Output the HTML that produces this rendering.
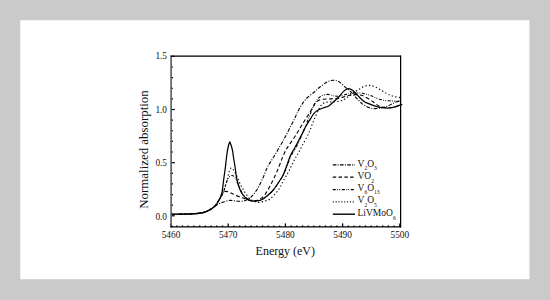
<!DOCTYPE html>
<html><head><meta charset="utf-8"><style>
html,body{margin:0;padding:0;}
body{width:550px;height:300px;background:#cacaca;overflow:hidden;}
svg{position:absolute;left:0;top:0;}
text{font-family:"Liberation Serif",serif;fill:#111;}
</style></head><body>
<svg width="550" height="300" viewBox="0 0 550 300">
<rect x="20.25" y="20.25" width="509.2" height="259" fill="#fff"/>
<g><path d="M171.00 214.30 C173.33 214.27 181.00 214.20 185.00 214.10 C189.00 214.00 192.00 213.95 195.00 213.70 C198.00 213.45 200.83 213.08 203.00 212.60 C205.17 212.12 206.50 211.50 208.00 210.80 C209.50 210.10 210.75 209.23 212.00 208.40 C213.25 207.57 214.33 206.57 215.50 205.80 C216.67 205.03 217.75 204.38 219.00 203.80 C220.25 203.22 221.17 202.87 223.00 202.30 C224.83 201.73 227.50 200.58 230.00 200.40 C232.50 200.22 235.55 201.13 238.00 201.20 C240.45 201.27 242.82 201.28 244.70 200.80 C246.58 200.32 248.05 199.13 249.30 198.30 C250.55 197.47 251.25 196.78 252.20 195.80 C253.15 194.82 254.03 193.70 255.00 192.40 C255.97 191.10 257.03 189.65 258.00 188.00 C258.97 186.35 259.83 184.50 260.80 182.50 C261.77 180.50 262.60 178.75 263.80 176.00 C265.00 173.25 266.30 169.25 268.00 166.00 C269.70 162.75 271.67 160.38 274.00 156.50 C276.33 152.62 280.05 146.12 282.00 142.70 C283.95 139.28 284.37 138.53 285.70 136.00 C287.03 133.47 288.50 130.42 290.00 127.50 C291.50 124.58 293.43 121.08 294.70 118.50 C295.97 115.92 296.45 114.28 297.60 112.00 C298.75 109.72 300.03 107.13 301.60 104.80 C303.17 102.47 304.77 100.22 307.00 98.00 C309.23 95.78 312.83 93.33 315.00 91.50 C317.17 89.67 318.00 88.58 320.00 87.00 C322.00 85.42 324.83 83.13 327.00 82.00 C329.17 80.87 331.00 80.23 333.00 80.20 C335.00 80.17 337.03 80.70 339.00 81.80 C340.97 82.90 342.97 85.27 344.80 86.80 C346.63 88.33 348.30 89.38 350.00 91.00 C351.70 92.62 353.50 94.92 355.00 96.50 C356.50 98.08 357.83 99.32 359.00 100.50 C360.17 101.68 360.83 102.63 362.00 103.60 C363.17 104.57 364.67 105.58 366.00 106.30 C367.33 107.02 368.67 107.52 370.00 107.90 C371.33 108.28 372.67 108.50 374.00 108.60 C375.33 108.70 376.67 108.63 378.00 108.50 C379.33 108.37 380.45 108.18 382.00 107.80 C383.55 107.42 385.75 106.78 387.30 106.20 C388.85 105.62 389.97 104.95 391.30 104.30 C392.63 103.65 393.85 102.85 395.30 102.30 C396.75 101.75 399.22 101.22 400.00 101.00" fill="none" stroke="#000" stroke-width="1.1" stroke-dasharray="3.6 1.5 1 1.5" stroke-linejoin="round"/><path d="M171.00 214.30 C173.33 214.27 181.00 214.20 185.00 214.10 C189.00 214.00 192.00 213.95 195.00 213.70 C198.00 213.45 200.83 213.08 203.00 212.60 C205.17 212.12 206.50 211.50 208.00 210.80 C209.50 210.10 210.83 209.20 212.00 208.40 C213.17 207.60 213.83 207.40 215.00 206.00 C216.17 204.60 217.83 201.83 219.00 200.00 C220.17 198.17 221.00 196.42 222.00 195.00 C223.00 193.58 223.67 191.92 225.00 191.50 C226.33 191.08 228.17 191.83 230.00 192.50 C231.83 193.17 233.83 194.58 236.00 195.50 C238.17 196.42 240.83 197.25 243.00 198.00 C245.17 198.75 247.00 199.55 249.00 200.00 C251.00 200.45 253.17 200.87 255.00 200.70 C256.83 200.53 258.33 200.03 260.00 199.00 C261.67 197.97 263.33 196.67 265.00 194.50 C266.67 192.33 268.33 189.08 270.00 186.00 C271.67 182.92 273.50 179.25 275.00 176.00 C276.50 172.75 277.72 169.67 279.00 166.50 C280.28 163.33 281.53 159.78 282.70 157.00 C283.87 154.22 284.90 151.85 286.00 149.80 C287.10 147.75 287.97 146.67 289.30 144.70 C290.63 142.73 292.67 140.00 294.00 138.00 C295.33 136.00 296.08 134.70 297.30 132.70 C298.52 130.70 300.02 128.12 301.30 126.00 C302.58 123.88 303.67 122.12 305.00 120.00 C306.33 117.88 308.00 115.40 309.30 113.30 C310.60 111.20 311.73 109.15 312.80 107.40 C313.87 105.65 314.75 103.95 315.70 102.80 C316.65 101.65 317.33 101.08 318.50 100.50 C319.67 99.92 321.00 99.55 322.70 99.30 C324.40 99.05 326.70 99.10 328.70 99.00 C330.70 98.90 332.82 98.87 334.70 98.70 C336.58 98.53 338.28 98.37 340.00 98.00 C341.72 97.63 343.33 96.97 345.00 96.50 C346.67 96.03 348.33 95.52 350.00 95.20 C351.67 94.88 353.50 94.67 355.00 94.60 C356.50 94.53 357.77 94.63 359.00 94.80 C360.23 94.97 360.82 94.93 362.40 95.60 C363.98 96.27 366.48 97.60 368.50 98.80 C370.52 100.00 372.75 101.60 374.50 102.80 C376.25 104.00 377.25 105.20 379.00 106.00 C380.75 106.80 383.00 107.32 385.00 107.60 C387.00 107.88 389.17 107.88 391.00 107.70 C392.83 107.52 394.50 106.95 396.00 106.50 C397.50 106.05 399.33 105.25 400.00 105.00" fill="none" stroke="#000" stroke-width="1.1" stroke-dasharray="3.8 2.5" stroke-linejoin="round"/><path d="M171.00 214.30 C173.33 214.27 181.00 214.20 185.00 214.10 C189.00 214.00 192.00 213.95 195.00 213.70 C198.00 213.45 200.83 213.08 203.00 212.60 C205.17 212.12 206.50 211.50 208.00 210.80 C209.50 210.10 210.83 209.20 212.00 208.40 C213.17 207.60 213.83 207.40 215.00 206.00 C216.17 204.60 217.67 202.17 219.00 200.00 C220.33 197.83 222.00 195.08 223.00 193.00 C224.00 190.92 224.42 189.25 225.00 187.50 C225.58 185.75 226.00 184.00 226.50 182.50 C227.00 181.00 227.17 179.67 228.00 178.50 C228.83 177.33 230.42 175.75 231.50 175.50 C232.58 175.25 233.58 175.92 234.50 177.00 C235.42 178.08 236.03 179.92 237.00 182.00 C237.97 184.08 239.22 187.33 240.30 189.50 C241.38 191.67 242.30 193.42 243.50 195.00 C244.70 196.58 246.08 198.03 247.50 199.00 C248.92 199.97 250.50 200.47 252.00 200.80 C253.50 201.13 255.00 201.13 256.50 201.00 C258.00 200.87 259.25 200.83 261.00 200.00 C262.75 199.17 264.95 197.67 267.00 196.00 C269.05 194.33 271.22 192.50 273.30 190.00 C275.38 187.50 277.88 183.45 279.50 181.00 C281.12 178.55 281.78 177.72 283.00 175.30 C284.22 172.88 285.47 169.72 286.80 166.50 C288.13 163.28 289.50 159.08 291.00 156.00 C292.50 152.92 294.30 150.78 295.80 148.00 C297.30 145.22 298.80 141.93 300.00 139.30 C301.20 136.67 302.00 134.58 303.00 132.20 C304.00 129.82 305.08 127.28 306.00 125.00 C306.92 122.72 307.67 120.67 308.50 118.50 C309.33 116.33 310.17 114.08 311.00 112.00 C311.83 109.92 312.67 107.75 313.50 106.00 C314.33 104.25 315.13 102.83 316.00 101.50 C316.87 100.17 317.58 99.03 318.70 98.00 C319.82 96.97 321.27 95.90 322.70 95.30 C324.13 94.70 325.87 94.45 327.30 94.40 C328.73 94.35 330.18 94.77 331.30 95.00 C332.42 95.23 333.00 95.60 334.00 95.80 C335.00 96.00 336.22 96.20 337.30 96.20 C338.38 96.20 339.27 96.05 340.50 95.80 C341.73 95.55 343.45 95.02 344.70 94.70 C345.95 94.38 346.78 94.15 348.00 93.90 C349.22 93.65 350.33 93.37 352.00 93.20 C353.67 93.03 356.27 92.88 358.00 92.90 C359.73 92.92 360.90 93.03 362.40 93.30 C363.90 93.57 365.43 94.05 367.00 94.50 C368.57 94.95 370.10 95.35 371.80 96.00 C373.50 96.65 375.17 97.68 377.20 98.40 C379.23 99.12 381.98 99.90 384.00 100.30 C386.02 100.70 387.18 100.65 389.30 100.80 C391.42 100.95 394.92 101.18 396.70 101.20 C398.48 101.22 399.45 100.95 400.00 100.90" fill="none" stroke="#000" stroke-width="1.1" stroke-dasharray="3 1.5 0.8 1.2 0.8 1.7" stroke-linejoin="round"/><path d="M171.00 214.30 C173.33 214.27 181.00 214.20 185.00 214.10 C189.00 214.00 192.00 213.95 195.00 213.70 C198.00 213.45 200.83 213.08 203.00 212.60 C205.17 212.12 206.50 211.50 208.00 210.80 C209.50 210.10 210.83 209.28 212.00 208.40 C213.17 207.52 213.67 207.15 215.00 205.50 C216.33 203.85 218.50 201.08 220.00 198.50 C221.50 195.92 223.08 192.25 224.00 190.00 C224.92 187.75 224.92 186.83 225.50 185.00 C226.08 183.17 226.92 181.17 227.50 179.00 C228.08 176.83 228.42 173.83 229.00 172.00 C229.58 170.17 230.25 168.33 231.00 168.00 C231.75 167.67 232.58 168.75 233.50 170.00 C234.42 171.25 235.50 173.42 236.50 175.50 C237.50 177.58 238.67 180.67 239.50 182.50 C240.33 184.33 240.83 185.25 241.50 186.50 C242.17 187.75 242.75 188.75 243.50 190.00 C244.25 191.25 244.92 192.50 246.00 194.00 C247.08 195.50 248.50 197.75 250.00 199.00 C251.50 200.25 253.50 200.92 255.00 201.50 C256.50 202.08 257.33 202.58 259.00 202.50 C260.67 202.42 263.17 201.58 265.00 201.00 C266.83 200.42 268.17 200.33 270.00 199.00 C271.83 197.67 274.33 194.92 276.00 193.00 C277.67 191.08 278.75 189.58 280.00 187.50 C281.25 185.42 282.28 182.75 283.50 180.50 C284.72 178.25 286.22 175.95 287.30 174.00 C288.38 172.05 289.10 170.58 290.00 168.80 C290.90 167.02 291.75 165.18 292.70 163.30 C293.65 161.42 294.70 159.33 295.70 157.50 C296.70 155.67 297.65 154.22 298.70 152.30 C299.75 150.38 300.67 148.50 302.00 146.00 C303.33 143.50 305.37 139.92 306.70 137.30 C308.03 134.68 308.98 132.72 310.00 130.30 C311.02 127.88 311.80 125.32 312.80 122.80 C313.80 120.28 314.97 117.50 316.00 115.20 C317.03 112.90 318.05 110.77 319.00 109.00 C319.95 107.23 320.70 105.67 321.70 104.60 C322.70 103.53 323.62 103.03 325.00 102.60 C326.38 102.17 328.50 102.13 330.00 102.00 C331.50 101.87 332.62 101.92 334.00 101.80 C335.38 101.68 336.97 101.53 338.30 101.30 C339.63 101.07 340.83 100.85 342.00 100.40 C343.17 99.95 343.97 99.47 345.30 98.60 C346.63 97.73 348.22 96.42 350.00 95.20 C351.78 93.98 354.33 92.37 356.00 91.30 C357.67 90.23 358.50 89.67 360.00 88.80 C361.50 87.93 363.33 86.67 365.00 86.10 C366.67 85.53 368.33 85.28 370.00 85.40 C371.67 85.52 373.33 86.10 375.00 86.80 C376.67 87.50 378.12 88.52 380.00 89.60 C381.88 90.68 384.63 92.40 386.30 93.30 C387.97 94.20 388.83 94.50 390.00 95.00 C391.17 95.50 392.13 95.97 393.30 96.30 C394.47 96.63 395.88 96.78 397.00 97.00 C398.12 97.22 399.50 97.50 400.00 97.60" fill="none" stroke="#000" stroke-width="1.1" stroke-dasharray="1.3 2.3" stroke-linejoin="round"/><path d="M171.00 214.30 C173.33 214.27 181.00 214.20 185.00 214.10 C189.00 214.00 192.00 213.95 195.00 213.70 C198.00 213.45 200.83 213.08 203.00 212.60 C205.17 212.12 206.50 211.50 208.00 210.80 C209.50 210.10 210.83 209.20 212.00 208.40 C213.17 207.60 214.00 207.07 215.00 206.00 C216.00 204.93 217.17 203.33 218.00 202.00 C218.83 200.67 219.33 199.58 220.00 198.00 C220.67 196.42 221.42 195.33 222.00 192.50 C222.58 189.67 222.93 185.25 223.50 181.00 C224.07 176.75 224.95 170.50 225.40 167.00 C225.85 163.50 225.93 162.25 226.20 160.00 C226.47 157.75 226.62 155.92 227.00 153.50 C227.38 151.08 228.03 147.45 228.50 145.50 C228.97 143.55 229.58 142.42 229.80 141.80 C230.03 142.42 230.73 143.97 231.20 145.50 C231.67 147.03 232.20 148.92 232.60 151.00 C233.00 153.08 233.20 155.42 233.60 158.00 C234.00 160.58 234.43 162.83 235.00 166.50 C235.57 170.17 236.17 176.17 237.00 180.00 C237.83 183.83 239.00 187.00 240.00 189.50 C241.00 192.00 241.83 193.42 243.00 195.00 C244.17 196.58 245.67 198.03 247.00 199.00 C248.33 199.97 249.50 200.47 251.00 200.80 C252.50 201.13 254.33 201.13 256.00 201.00 C257.67 200.87 259.17 200.83 261.00 200.00 C262.83 199.17 264.95 197.67 267.00 196.00 C269.05 194.33 271.22 192.50 273.30 190.00 C275.38 187.50 277.88 183.45 279.50 181.00 C281.12 178.55 281.83 177.72 283.00 175.30 C284.17 172.88 285.30 169.72 286.50 166.50 C287.70 163.28 288.83 159.08 290.20 156.00 C291.57 152.92 293.18 150.78 294.70 148.00 C296.22 145.22 298.00 141.80 299.30 139.30 C300.60 136.80 301.38 135.22 302.50 133.00 C303.62 130.78 304.67 128.37 306.00 126.00 C307.33 123.63 309.17 120.92 310.50 118.80 C311.83 116.68 312.70 114.77 314.00 113.30 C315.30 111.83 316.80 110.88 318.30 110.00 C319.80 109.12 321.33 108.62 323.00 108.00 C324.67 107.38 326.68 107.20 328.30 106.30 C329.92 105.40 331.00 104.12 332.70 102.60 C334.40 101.08 336.70 99.07 338.50 97.20 C340.30 95.33 342.00 92.80 343.50 91.40 C345.00 90.00 346.25 89.13 347.50 88.80 C348.75 88.47 349.77 88.82 351.00 89.40 C352.23 89.98 353.57 91.07 354.90 92.30 C356.23 93.53 357.55 95.32 359.00 96.80 C360.45 98.28 362.02 100.07 363.60 101.20 C365.18 102.33 366.57 102.77 368.50 103.60 C370.43 104.43 372.95 105.52 375.20 106.20 C377.45 106.88 379.77 107.40 382.00 107.70 C384.23 108.00 386.93 108.02 388.60 108.00 C390.27 107.98 390.77 107.83 392.00 107.60 C393.23 107.37 394.67 107.00 396.00 106.60 C397.33 106.20 398.95 105.60 400.00 105.20 C401.05 104.80 401.92 104.37 402.30 104.20" fill="none" stroke="#000" stroke-width="1.25" stroke-linejoin="round"/></g>
<g><line x1="171" y1="226.43" x2="173.00" y2="226.43" stroke="#000" stroke-width="1.2"/><line x1="171" y1="215.80" x2="174.80" y2="215.80" stroke="#000" stroke-width="1.2"/><line x1="171" y1="205.17" x2="173.00" y2="205.17" stroke="#000" stroke-width="1.2"/><line x1="171" y1="194.54" x2="173.00" y2="194.54" stroke="#000" stroke-width="1.2"/><line x1="171" y1="183.91" x2="173.00" y2="183.91" stroke="#000" stroke-width="1.2"/><line x1="171" y1="173.28" x2="173.00" y2="173.28" stroke="#000" stroke-width="1.2"/><line x1="171" y1="162.65" x2="174.80" y2="162.65" stroke="#000" stroke-width="1.2"/><line x1="171" y1="152.02" x2="173.00" y2="152.02" stroke="#000" stroke-width="1.2"/><line x1="171" y1="141.39" x2="173.00" y2="141.39" stroke="#000" stroke-width="1.2"/><line x1="171" y1="130.76" x2="173.00" y2="130.76" stroke="#000" stroke-width="1.2"/><line x1="171" y1="120.13" x2="173.00" y2="120.13" stroke="#000" stroke-width="1.2"/><line x1="171" y1="109.50" x2="174.80" y2="109.50" stroke="#000" stroke-width="1.2"/><line x1="171" y1="98.87" x2="173.00" y2="98.87" stroke="#000" stroke-width="1.2"/><line x1="171" y1="88.24" x2="173.00" y2="88.24" stroke="#000" stroke-width="1.2"/><line x1="171" y1="77.61" x2="173.00" y2="77.61" stroke="#000" stroke-width="1.2"/><line x1="171" y1="66.98" x2="173.00" y2="66.98" stroke="#000" stroke-width="1.2"/><line x1="171" y1="56.35" x2="174.80" y2="56.35" stroke="#000" stroke-width="1.2"/><line x1="171.00" y1="227" x2="171.00" y2="223.40" stroke="#000" stroke-width="1.3"/><line x1="176.72" y1="227" x2="176.72" y2="225.40" stroke="#000" stroke-width="1.3"/><line x1="182.44" y1="227" x2="182.44" y2="225.40" stroke="#000" stroke-width="1.3"/><line x1="188.16" y1="227" x2="188.16" y2="225.40" stroke="#000" stroke-width="1.3"/><line x1="193.88" y1="227" x2="193.88" y2="225.40" stroke="#000" stroke-width="1.3"/><line x1="199.60" y1="227" x2="199.60" y2="225.40" stroke="#000" stroke-width="1.3"/><line x1="205.32" y1="227" x2="205.32" y2="225.40" stroke="#000" stroke-width="1.3"/><line x1="211.04" y1="227" x2="211.04" y2="225.40" stroke="#000" stroke-width="1.3"/><line x1="216.76" y1="227" x2="216.76" y2="225.40" stroke="#000" stroke-width="1.3"/><line x1="222.48" y1="227" x2="222.48" y2="225.40" stroke="#000" stroke-width="1.3"/><line x1="228.20" y1="227" x2="228.20" y2="223.40" stroke="#000" stroke-width="1.3"/><line x1="233.92" y1="227" x2="233.92" y2="225.40" stroke="#000" stroke-width="1.3"/><line x1="239.64" y1="227" x2="239.64" y2="225.40" stroke="#000" stroke-width="1.3"/><line x1="245.36" y1="227" x2="245.36" y2="225.40" stroke="#000" stroke-width="1.3"/><line x1="251.08" y1="227" x2="251.08" y2="225.40" stroke="#000" stroke-width="1.3"/><line x1="256.80" y1="227" x2="256.80" y2="225.40" stroke="#000" stroke-width="1.3"/><line x1="262.52" y1="227" x2="262.52" y2="225.40" stroke="#000" stroke-width="1.3"/><line x1="268.24" y1="227" x2="268.24" y2="225.40" stroke="#000" stroke-width="1.3"/><line x1="273.96" y1="227" x2="273.96" y2="225.40" stroke="#000" stroke-width="1.3"/><line x1="279.68" y1="227" x2="279.68" y2="225.40" stroke="#000" stroke-width="1.3"/><line x1="285.40" y1="227" x2="285.40" y2="223.40" stroke="#000" stroke-width="1.3"/><line x1="291.12" y1="227" x2="291.12" y2="225.40" stroke="#000" stroke-width="1.3"/><line x1="296.84" y1="227" x2="296.84" y2="225.40" stroke="#000" stroke-width="1.3"/><line x1="302.56" y1="227" x2="302.56" y2="225.40" stroke="#000" stroke-width="1.3"/><line x1="308.28" y1="227" x2="308.28" y2="225.40" stroke="#000" stroke-width="1.3"/><line x1="314.00" y1="227" x2="314.00" y2="225.40" stroke="#000" stroke-width="1.3"/><line x1="319.72" y1="227" x2="319.72" y2="225.40" stroke="#000" stroke-width="1.3"/><line x1="325.44" y1="227" x2="325.44" y2="225.40" stroke="#000" stroke-width="1.3"/><line x1="331.16" y1="227" x2="331.16" y2="225.40" stroke="#000" stroke-width="1.3"/><line x1="336.88" y1="227" x2="336.88" y2="225.40" stroke="#000" stroke-width="1.3"/><line x1="342.60" y1="227" x2="342.60" y2="223.40" stroke="#000" stroke-width="1.3"/><line x1="348.32" y1="227" x2="348.32" y2="225.40" stroke="#000" stroke-width="1.3"/><line x1="354.04" y1="227" x2="354.04" y2="225.40" stroke="#000" stroke-width="1.3"/><line x1="359.76" y1="227" x2="359.76" y2="225.40" stroke="#000" stroke-width="1.3"/><line x1="365.48" y1="227" x2="365.48" y2="225.40" stroke="#000" stroke-width="1.3"/><line x1="371.20" y1="227" x2="371.20" y2="225.40" stroke="#000" stroke-width="1.3"/><line x1="376.92" y1="227" x2="376.92" y2="225.40" stroke="#000" stroke-width="1.3"/><line x1="382.64" y1="227" x2="382.64" y2="225.40" stroke="#000" stroke-width="1.3"/><line x1="388.36" y1="227" x2="388.36" y2="225.40" stroke="#000" stroke-width="1.3"/><line x1="394.08" y1="227" x2="394.08" y2="225.40" stroke="#000" stroke-width="1.3"/><line x1="399.80" y1="227" x2="399.80" y2="223.40" stroke="#000" stroke-width="1.3"/></g>
<line x1="171.1" y1="55.5" x2="171.1" y2="227.4" stroke="#5a5a5a" stroke-width="1.6"/>
<line x1="170.6" y1="56.2" x2="401" y2="56.2" stroke="#000" stroke-width="1.25"/>
<line x1="400.6" y1="55.6" x2="400.6" y2="227.4" stroke="#000" stroke-width="1.25"/>
<line x1="170.4" y1="226.75" x2="401.2" y2="226.75" stroke="#000" stroke-width="1.25"/>
<g font-size="9.3"><text x="167" y="219.90" text-anchor="end">0.0</text><text x="167" y="165.85" text-anchor="end">0.5</text><text x="167" y="112.70" text-anchor="end">1.0</text><text x="167" y="58.95" text-anchor="end">1.5</text><text x="171.00" y="237.5" text-anchor="middle">5460</text><text x="228.20" y="237.5" text-anchor="middle">5470</text><text x="285.40" y="237.5" text-anchor="middle">5480</text><text x="342.60" y="237.5" text-anchor="middle">5490</text><text x="399.80" y="237.5" text-anchor="middle">5500</text></g>
<text x="285.3" y="255.3" font-size="12" text-anchor="middle">Energy (eV)</text>
<text transform="translate(148,149.5) rotate(-90)" font-size="12.9" text-anchor="middle">Normalized absorption</text>
<g font-size="9.5"><line x1="332.8" y1="164.80" x2="355" y2="164.80" stroke="#000" stroke-width="1.25" stroke-dasharray="3.6 1.3 1 1.3"/><text x="357.5" y="166.60"><tspan y="166.60">V</tspan><tspan font-size="5.6" y="170.00">2</tspan><tspan y="166.60">O</tspan><tspan font-size="5.6" y="170.00">3</tspan></text><line x1="332.8" y1="177.15" x2="355" y2="177.15" stroke="#000" stroke-width="1.25" stroke-dasharray="3.4 2.4"/><text x="357.5" y="178.70"><tspan y="178.70">VO</tspan><tspan font-size="5.6" y="183.30">2</tspan></text><line x1="332.8" y1="189.50" x2="355" y2="189.50" stroke="#000" stroke-width="1.25" stroke-dasharray="3 1.5 0.8 1.2 0.8 1.7"/><text x="357.5" y="191.00"><tspan y="191.00">V</tspan><tspan font-size="5.6" y="194.40">6</tspan><tspan y="191.00">O</tspan><tspan font-size="5.6" y="194.40">13</tspan></text><line x1="332.8" y1="201.85" x2="355" y2="201.85" stroke="#000" stroke-width="1.25" stroke-dasharray="1 1.85"/><text x="357.5" y="203.30"><tspan y="203.30">V</tspan><tspan font-size="5.6" y="207.00">2</tspan><tspan y="203.30">O</tspan><tspan font-size="5.6" y="207.00">5</tspan></text><line x1="332.8" y1="214.20" x2="355" y2="214.20" stroke="#000" stroke-width="1.4"/><text x="357.5" y="215.60"><tspan y="215.60">LiVMoO</tspan><tspan font-size="5.6" y="220.00">6</tspan></text></g>
</svg>
</body></html>
